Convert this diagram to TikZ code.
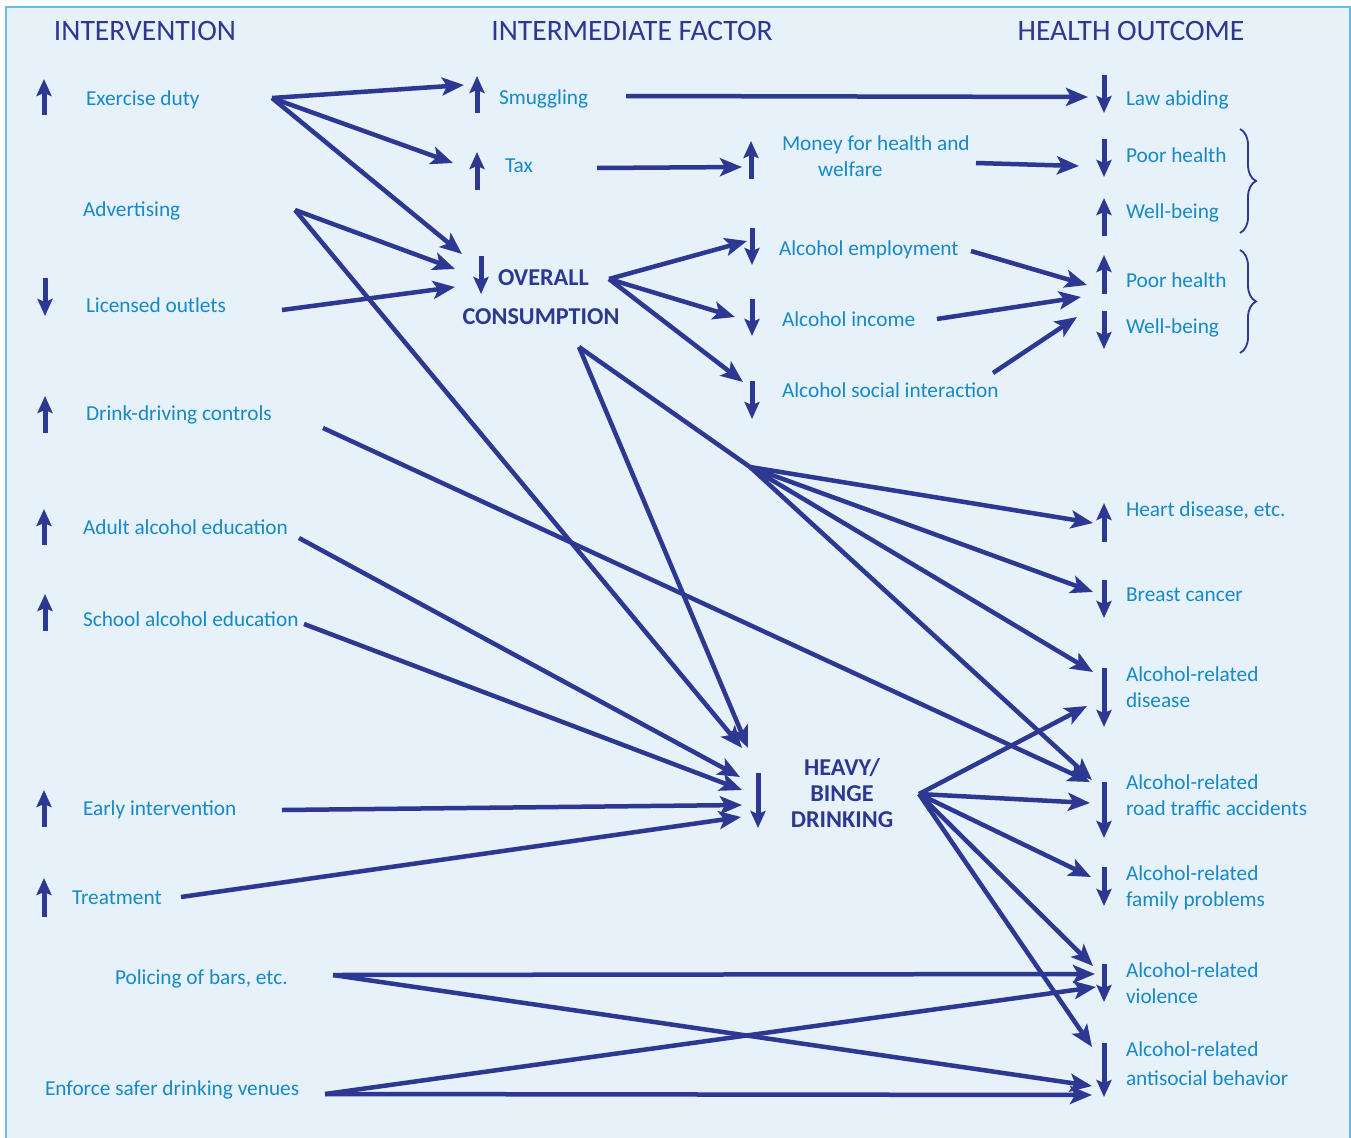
\documentclass[tikz,border=0pt]{standalone}
\usepackage{fontspec}
\setmainfont{Carlito}
\usetikzlibrary{arrows.meta,decorations.pathreplacing}

\definecolor{bgfill}{RGB}{230,241,249}
\definecolor{framecol}{RGB}{110,185,230}
\definecolor{linkcol}{RGB}{44,56,146}
\definecolor{txtcol}{RGB}{22,138,200}

\tikzset{
  every node/.style={inner sep=0pt, outer sep=0pt},
  lbl/.style={anchor=west, text=txtcol, font=\fontsize{21.3}{26}\selectfont, align=left},
  hdr/.style={text=linkcol, font=\fontsize{29.6}{32}\selectfont},
  bld/.style={text=linkcol, font=\fontsize{24.2}{26}\selectfont\bfseries, align=center},
  link/.style={draw=linkcol, line width=4.5pt, -{Stealth[length=22pt,width=18pt,inset=5pt]}},
  trunk/.style={draw=linkcol, line width=4.5pt},
  trend/.style={draw=linkcol, line width=5pt, -{Stealth[length=17pt,width=15pt,inset=3pt]}},
  grp/.style={draw=linkcol, line width=1.8pt, decorate, decoration={brace, amplitude=16pt}},
}

\begin{document}
\begin{tikzpicture}[x=1pt, y=-1pt]
\useasboundingbox (0,0) rectangle (1351,1137);
\clip (0,0) rectangle (1351,1137);
\draw[framecol, fill=bgfill, line width=1.5pt] (6,7) rectangle (1350,1160);

% column headings
\node[hdr] (hInt) at (145,31) {INTERVENTION};
\node[hdr] (hMid) at (632,31) {INTERMEDIATE FACTOR};
\node[hdr] (hOut) at (1131,31) {HEALTH OUTCOME};

% interventions
\node[lbl] (exd) at (86,100) {Exercise duty};
\node[lbl] (adv) at (83,211) {Advertising};
\node[lbl] (lic) at (86,305) {Licensed outlets};
\node[lbl] (ddc) at (86,415) {Drink-driving controls};
\node[lbl] (aae) at (83,527) {Adult alcohol education};
\node[lbl] (sae) at (83,619) {School alcohol education};
\node[lbl] (eai) at (83,810) {Early intervention};
\node[lbl] (trt) at (72,898) {Treatment};
\node[lbl] (pol) at (115,979) {Policing of bars, etc.};
\node[lbl] (enf) at (45,1090) {Enforce safer drinking venues};

% intermediate factors
\node[lbl] (smg) at (499,99) {Smuggling};
\node[lbl] (tax) at (505,166) {Tax};
\node[bld, anchor=west] (ovr) at (498,278) {OVERALL};
\node[bld] (ovrb) at (541,317) {CONSUMPTION};
\node[lbl] (mny) at (782,156) {Money for health and\\\hspace*{36pt}welfare};
\node[lbl] (emp) at (779,250) {Alcohol employment};
\node[lbl] (inc) at (782,319) {Alcohol income};
\node[lbl] (soc) at (782,390) {Alcohol social interaction};
\node[bld] (hvy) at (842,793) {HEAVY/\\BINGE\\DRINKING};

% health outcomes
\node[lbl] (law) at (1126,100) {Law abiding};
\node[lbl] (phA) at (1126,155) {Poor health};
\node[lbl] (wbA) at (1126,213) {Well-being};
\node[lbl] (phB) at (1126,280) {Poor health};
\node[lbl] (wbB) at (1126,328) {Well-being};
\node[lbl] (hrt) at (1126,510) {Heart disease, etc.};
\node[lbl] (brc) at (1126,595) {Breast cancer};
\node[lbl] (ard) at (1126,687) {Alcohol-related\\disease};
\node[lbl] (rta) at (1126,795) {Alcohol-related\\road traffic accidents};
\node[lbl] (fam) at (1126,888) {Alcohol-related\\family problems};
\node[lbl] (vio) at (1126,983) {Alcohol-related\\violence};
\node[lbl, font=\fontsize{21.3}{29}\selectfont] (asb) at (1126,1064) {Alcohol-related\\antisocial behavior};

% braces grouping the paired outcomes
\draw[grp] (1240,129) -- (1240,233);
\draw[grp] (1240,250) -- (1240,353);

% direction of change markers
\draw[trend] (44,115) -- (44,79);
\draw[trend] (45,278) -- (45,316);
\draw[trend] (45,433) -- (45,396);
\draw[trend] (44,545) -- (44,509);
\draw[trend] (45,631) -- (45,594);
\draw[trend] (44,827) -- (44,790);
\draw[trend] (44,917) -- (44,878);
\draw[trend] (477,113) -- (477,76);
\draw[trend] (477,190) -- (477,152);
\draw[trend] (481,256) -- (481,294);
\draw[trend] (751,179) -- (751,141);
\draw[trend] (752,228) -- (752,265);
\draw[trend] (752,299) -- (752,336);
\draw[trend] (752,381) -- (752,419);
\draw[trend] (758,773) -- (758,828);
\draw[trend] (1104,75) -- (1104,113);
\draw[trend] (1104,139) -- (1104,177);
\draw[trend] (1104,236) -- (1104,198);
\draw[trend] (1104,294) -- (1104,255);
\draw[trend] (1104,311) -- (1104,349);
\draw[trend] (1104,542) -- (1104,503);
\draw[trend] (1104,580) -- (1104,618);
\draw[trend] (1104,668) -- (1104,727);
\draw[trend] (1104,782) -- (1104,838);
\draw[trend] (1104,867) -- (1104,906);
\draw[trend] (1104,964) -- (1104,1002);
\draw[trend] (1104,1043) -- (1104,1097);

% connector end points
\coordinate (exd-o) at (272,98);
\coordinate (adv-o) at (295,210);
\coordinate (lic-o) at (282,310);
\coordinate (ddc-o) at (323,428);
\coordinate (aae-o) at (299,538);
\coordinate (sae-o) at (304,624);
\coordinate (eai-o) at (282,810);
\coordinate (trt-o) at (181,897);
\coordinate (pol-o) at (333,975);
\coordinate (enf-o) at (325,1094);

\coordinate (smg-i) at (464,85);
\coordinate (smg-o) at (626,96);
\coordinate (tax-i) at (453,163);
\coordinate (tax-o) at (597,168);
\coordinate (ovr-iA) at (462,254);
\coordinate (ovr-iB) at (455,269);
\coordinate (ovr-iC) at (455,287);
\coordinate (ovr-o) at (609,279);
\coordinate (ovr-ob) at (579,347);
\coordinate (fan) at (750,467);
\coordinate (mny-i) at (742,167);
\coordinate (mny-o) at (976,163);
\coordinate (emp-i) at (747,241);
\coordinate (emp-o) at (971,251);
\coordinate (inc-i) at (735,317);
\coordinate (inc-o) at (937,319);
\coordinate (soc-i) at (743,382);
\coordinate (soc-o) at (993,373);
\coordinate (hvy-iA) at (742,748);
\coordinate (hvy-iB) at (748,748);
\coordinate (hvy-iC) at (740,777);
\coordinate (hvy-iD) at (742,790);
\coordinate (hvy-iE) at (742,805);
\coordinate (hvy-iF) at (741,817);
\coordinate (hvy-o) at (919,794);

\coordinate (law-i) at (1088,97);
\coordinate (phA-i) at (1079,166);
\coordinate (phB-iA) at (1087,285);
\coordinate (phB-iB) at (1081,297);
\coordinate (phB-iC) at (1077,317);
\coordinate (hrt-i) at (1093,523);
\coordinate (brc-i) at (1093,592);
\coordinate (ard-iA) at (1093,672);
\coordinate (ard-iB) at (1087,706);
\coordinate (rta-iA) at (1092,780);
\coordinate (rta-iB) at (1090,782);
\coordinate (rta-iC) at (1090,803);
\coordinate (fam-i) at (1091,877);
\coordinate (vio-iA) at (1093,966);
\coordinate (vio-iB) at (1095,974);
\coordinate (vio-iC) at (1096,987);
\coordinate (asb-iA) at (1092,1047);
\coordinate (asb-iB) at (1092,1086);
\coordinate (asb-iC) at (1092,1095);

% interventions to intermediate factors
\draw[link] (exd-o) -- (smg-i);
\draw[link] (exd-o) -- (tax-i);
\draw[link] (exd-o) -- (ovr-iA);
\draw[link] (adv-o) -- (ovr-iB);
\draw[link] (adv-o) -- (hvy-iA);
\draw[link] (lic-o) -- (ovr-iC);
\draw[link] (aae-o) -- (hvy-iC);
\draw[link] (sae-o) -- (hvy-iD);
\draw[link] (eai-o) -- (hvy-iE);
\draw[link] (trt-o) -- (hvy-iF);

% intermediate chains
\draw[link] (tax-o) -- (mny-i);
\draw[link] (ovr-o) -- (emp-i);
\draw[link] (ovr-o) -- (inc-i);
\draw[link] (ovr-o) -- (soc-i);
\draw[link] (ovr-ob) -- (hvy-iB);
\draw[trunk] (ovr-ob) -- (fan);

% to health outcomes
\draw[link] (smg-o) -- (law-i);
\draw[link] (mny-o) -- (phA-i);
\draw[link] (emp-o) -- (phB-iA);
\draw[link] (inc-o) -- (phB-iB);
\draw[link] (soc-o) -- (phB-iC);
\draw[link] (fan) -- (hrt-i);
\draw[link] (fan) -- (brc-i);
\draw[link] (fan) -- (ard-iA);
\draw[link] (fan) -- (rta-iA);
\draw[link] (ddc-o) -- (rta-iB);
\draw[link] (hvy-o) -- (ard-iB);
\draw[link] (hvy-o) -- (rta-iC);
\draw[link] (hvy-o) -- (fam-i);
\draw[link] (hvy-o) -- (vio-iA);
\draw[link] (hvy-o) -- (asb-iA);
\draw[link] (pol-o) -- (vio-iB);
\draw[link] (pol-o) -- (asb-iB);
\draw[link] (enf-o) -- (vio-iC);
\draw[link] (enf-o) -- (asb-iC);
\end{tikzpicture}
\end{document}
